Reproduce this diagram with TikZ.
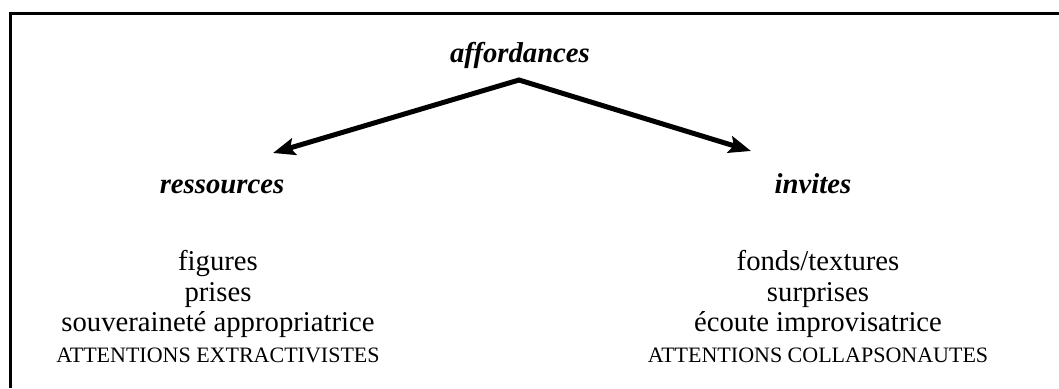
\documentclass[tikz,border=0pt]{standalone}
\usepackage{fontspec}
\setmainfont{Liberation Serif}
\usetikzlibrary{arrows.meta}
\begin{document}
\begin{tikzpicture}[x=1pt,y=-1pt,
  frameline/.style={line width=3pt,black},
  head/.style={anchor=base,inner sep=0pt,font=\fontsize{28.7}{30}\selectfont\bfseries\itshape},
  item/.style={anchor=base,inner sep=0pt,font=\fontsize{28.7}{30}\selectfont},
  capsitem/.style={anchor=base,inner sep=0pt,font=\fontsize{22}{24}\selectfont},
  branch/.style={line width=5pt,line join=miter,{Stealth[length=22pt,width=17pt,inset=4pt]}-{Stealth[length=22pt,width=17pt,inset=4pt]}}
]
\useasboundingbox (0,0) rectangle (1059,388);
% frame (top and left sides)
\draw[frameline] (10,388) -- (10,15);
\draw[frameline] (9,13) -- (1059,13);
% headings
\node[head] (aff) at (520,62) {affordances};
\node[head] (res) at (222,193) {ressources};
\node[head] (inv) at (813,193) {invites};
% arrows
\coordinate (apex) at (519,80);
\coordinate (ltip) at (273,153);
\coordinate (rtip) at (751,151);
\draw[branch] (ltip) -- (apex) -- (rtip);
% left list
\node[item] (l1) at (218,270) {figures};
\node[item] (l2) at (218,301) {prises};
\node[item] (l3) at (218,331) {souveraineté appropriatrice};
\node[capsitem] (l4) at (218,362) {ATTENTIONS EXTRACTIVISTES};
% right list
\node[item] (r1) at (818,270) {fonds/textures};
\node[item] (r2) at (818,301) {surprises};
\node[item] (r3) at (818,331) {écoute improvisatrice};
\node[capsitem] (r4) at (818,362) {ATTENTIONS COLLAPSONAUTES};
\end{tikzpicture}
\end{document}
